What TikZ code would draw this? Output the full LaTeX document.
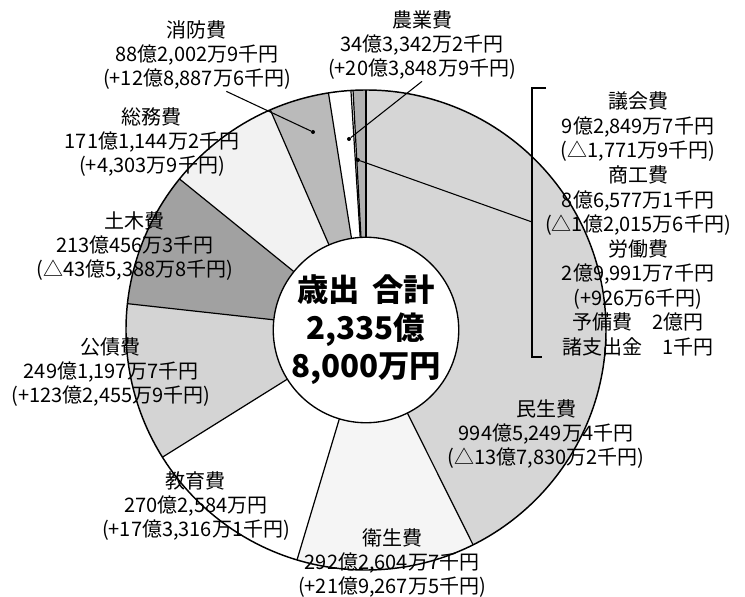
\documentclass[tikz,border=0pt]{standalone}
\usepackage{fontspec}
\newfontfamily\jpfont{Noto Sans CJK JP}
\begin{document}
\begin{tikzpicture}[x=0.75pt, y=0.75pt,
  costtext/.style={font=\jpfont\fontsize{15}{18.3}\selectfont, align=center, inner sep=1pt},
  edge/.style={line width=0.9pt},
  leaderline/.style={line width=0.8pt},
  enddot/.style={circle, fill=black, inner sep=0pt, minimum size=3pt}]
  \useasboundingbox (-366,-266) rectangle (379,330);

  % Slices of the ring
  \fill[black!16] (0,0) -- (-63.5:240) arc[start angle=-63.5, end angle=90, radius=240] -- cycle;
  \fill[black!30] (0,0) -- (90:240) arc[start angle=90, end angle=93.1, radius=240] -- cycle;
  \fill[white] (0,0) -- (93.1:240) arc[start angle=93.1, end angle=99, radius=240] -- cycle;
  \fill[black!27] (0,0) -- (99:240) arc[start angle=99, end angle=113.5, radius=240] -- cycle;
  \fill[black!5] (0,0) -- (113.5:240) arc[start angle=113.5, end angle=141, radius=240] -- cycle;
  \fill[black!37] (0,0) -- (141:240) arc[start angle=141, end angle=173.7, radius=240] -- cycle;
  \fill[black!17] (0,0) -- (173.7:240) arc[start angle=173.7, end angle=212, radius=240] -- cycle;
  \fill[white] (0,0) -- (212:240) arc[start angle=212, end angle=253.3, radius=240] -- cycle;
  \fill[black!4] (0,0) -- (253.3:240) arc[start angle=253.3, end angle=296.5, radius=240] -- cycle;

  % Slice borders
  \draw[edge] (90:92) -- (90:240);
  \draw[edge] (93.1:92) -- (93.1:240);
  \draw[edge] (93.6:92) -- (93.6:240);
  \draw[edge] (99:92) -- (99:240);
  \draw[edge] (113.5:92) -- (113.5:240);
  \draw[edge] (141:92) -- (141:240);
  \draw[edge] (173.7:92) -- (173.7:240);
  \draw[edge] (212:92) -- (212:240);
  \draw[edge] (253.3:92) -- (253.3:240);
  \draw[edge] (296.5:92) -- (296.5:240);
  \draw[line width=1.1pt] (0,0) circle[radius=240];

  % Total in the middle
  \node[circle, draw, line width=1pt, fill=white, minimum size=138pt, inner sep=0pt,
        font=\jpfont\bfseries\fontsize{23.5}{28.5}\selectfont, align=center] (total) at (0,0)
        {歳出\hspace{0.4em}合計\\2,335億\\8,000万円};

  % Labels
  \node[costtext] (shobo) at (-169,275) {消防費\\88億2,002万9千円\\(+12億8,887万6千円)};
  \node[costtext] (nogyo) at (56,285) {農業費\\34億3,342万2千円\\(+20億3,848万9千円)};
  \node[costtext] (somu) at (-214,188) {総務費\\171億1,144万2千円\\(+4,303万9千円)};
  \node[costtext] (doboku) at (-231,84) {土木費\\213億456万3千円\\(△43億5,388万8千円)};
  \node[costtext] (kosai) at (-255,-42) {公債費\\249億1,197万7千円\\(+123億2,455万9千円)};
  \node[costtext] (kyoiku) at (-170,-176) {教育費\\270億2,584万円\\(+17億3,316万1千円)};
  \node[costtext] (eisei) at (26,-233) {衛生費\\292億2,604万7千円\\(+21億9,267万5千円)};
  \node[costtext] (minsei) at (180,-104) {民生費\\994億5,249万4千円\\(△13億7,830万2千円)};
  \node[costtext, font=\jpfont\fontsize{15}{18.4}\selectfont] (others) at (272,106)
        {議会費\\9億2,849万7千円\\(△1,771万9千円)\\商工費\\8億6,577万1千円\\(△1億2,015万6千円)\\労働費\\2億9,991万7千円\\(+926万6千円)\\予備費\quad 2億円\\諸支出金\quad 1千円};

  % Leaders
  \node[enddot] (shobo-end) at (-53,198) {};
  \node[enddot] (nogyo-end) at (-17,191) {};
  \node[enddot] (gikai-end) at (-8,170) {};
  \draw[leaderline] ([xshift=22pt]shobo.south) -- (shobo-end);
  \draw[leaderline] (nogyo.south) -- (nogyo-end);

  % Bracket for the small items
  \coordinate (brk-top) at (166,242);
  \coordinate (brk-bot) at (166,-27);
  \coordinate (brk-mid) at (166,108);
  \draw[leaderline] (180,242) -- (brk-top) -- (brk-bot) -- (176,-27);
  \draw[leaderline] (brk-mid) -- (gikai-end);
\end{tikzpicture}
\end{document}
